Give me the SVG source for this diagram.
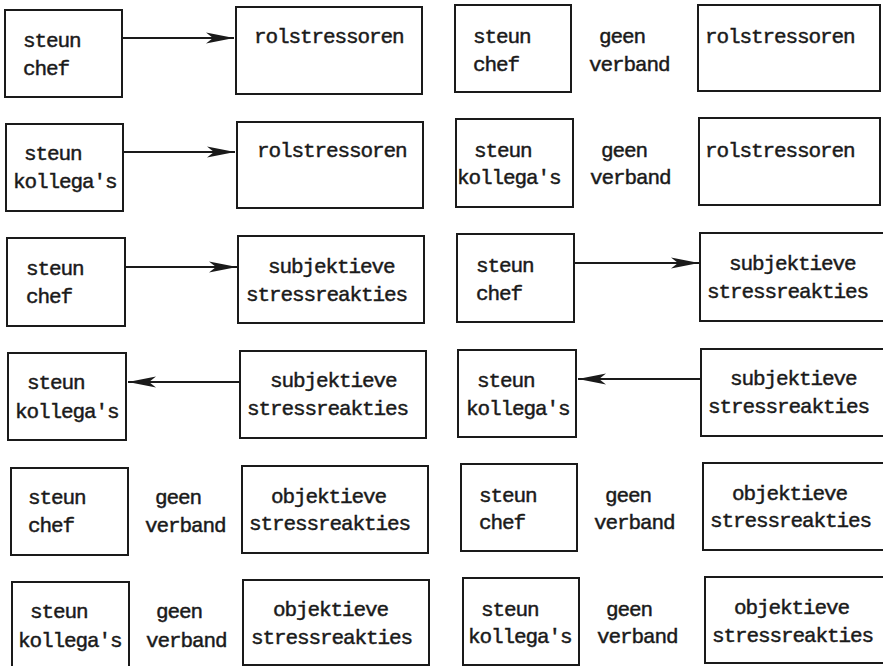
<svg xmlns="http://www.w3.org/2000/svg" width="883" height="666" viewBox="0 0 883 666">
  <defs>
    <style>
      .box { fill: none; stroke: #1a1a1a; stroke-width: 2; }
      .link { stroke: #1a1a1a; stroke-width: 2; fill: none; }
      text { font-family: "Liberation Mono", "DejaVu Sans Mono", monospace; font-size: 21px; letter-spacing: -1.1px; fill: #1a1a1a; stroke: #1a1a1a; stroke-width: 0.45; }
    </style>
    <marker id="head" markerUnits="userSpaceOnUse" markerWidth="32" markerHeight="14" viewBox="-30 -7 32 14" refX="0" refY="0" orient="auto">
      <path d="M0,0 L-28,-5.5 L-21,0 L-28,5.5 Z" fill="#1a1a1a"/>
    </marker>
  </defs>
  <rect width="883" height="666" fill="#ffffff"/>

  <!-- connectors -->
  <g id="connectors">
    <line class="link" x1="122" y1="38" x2="234" y2="38" marker-end="url(#head)"/>
    <line class="link" x1="123" y1="152" x2="235" y2="152" marker-end="url(#head)"/>
    <line class="link" x1="125" y1="267" x2="237" y2="267" marker-end="url(#head)"/>
    <line class="link" x1="574" y1="263" x2="699" y2="263" marker-end="url(#head)"/>
    <line class="link" x1="240" y1="382" x2="128" y2="382" marker-end="url(#head)"/>
    <line class="link" x1="701" y1="379" x2="578" y2="379" marker-end="url(#head)"/>
  </g>

  <!-- row 1 -->
  <g id="r1-chef"><rect class="box" x="5" y="10" width="117" height="87"/><text x="23" y="47">steun</text><text x="23" y="75">chef</text></g>
  <g id="r1-rol"><rect class="box" x="236" y="7" width="186" height="87"/><text x="254" y="43">rolstressoren</text></g>
  <g id="r1b-chef"><rect class="box" x="455" y="5" width="116" height="87"/><text x="473" y="43">steun</text><text x="473" y="71">chef</text></g>
  <g id="r1b-geen"><text x="599" y="43">geen</text><text x="589" y="71">verband</text></g>
  <g id="r1b-rol"><rect class="box" x="698" y="5" width="182" height="86"/><text x="705" y="43">rolstressoren</text></g>

  <!-- row 2 -->
  <g id="r2-kol"><rect class="box" x="6" y="124" width="117" height="87"/><text x="24" y="160">steun</text><text x="13" y="188">kollega's</text></g>
  <g id="r2-rol"><rect class="box" x="237" y="122" width="186" height="86"/><text x="257" y="157">rolstressoren</text></g>
  <g id="r2b-kol"><rect class="box" x="456" y="119" width="117" height="88"/><text x="474" y="157">steun</text><text x="457" y="184">kollega's</text></g>
  <g id="r2b-geen"><text x="601" y="157">geen</text><text x="590" y="184">verband</text></g>
  <g id="r2b-rol"><rect class="box" x="699" y="118" width="181" height="87"/><text x="705" y="157">rolstressoren</text></g>

  <!-- row 3 -->
  <g id="r3-chef"><rect class="box" x="7" y="238" width="118" height="88"/><text x="26" y="275">steun</text><text x="26" y="303">chef</text></g>
  <g id="r3-subj"><rect class="box" x="238" y="236" width="186" height="87"/><text x="268" y="273">subjektieve</text><text x="246" y="301">stressreakties</text></g>
  <g id="r3b-chef"><rect class="box" x="457" y="234" width="117" height="88"/><text x="476" y="272">steun</text><text x="476" y="300">chef</text></g>
  <g id="r3b-subj"><rect class="box" x="700" y="233" width="190" height="88"/><text x="729" y="270">subjektieve</text><text x="707" y="298">stressreakties</text></g>

  <!-- row 4 -->
  <g id="r4-kol"><rect class="box" x="8" y="353" width="118" height="87"/><text x="27" y="389">steun</text><text x="15" y="418">kollega's</text></g>
  <g id="r4-subj"><rect class="box" x="240" y="351" width="186" height="87"/><text x="270" y="387">subjektieve</text><text x="247" y="415">stressreakties</text></g>
  <g id="r4b-kol"><rect class="box" x="458" y="350" width="118" height="87"/><text x="477" y="387">steun</text><text x="466" y="415">kollega's</text></g>
  <g id="r4b-subj"><rect class="box" x="701" y="349" width="190" height="87"/><text x="730" y="385">subjektieve</text><text x="708" y="413">stressreakties</text></g>

  <!-- row 5 -->
  <g id="r5-chef"><rect class="box" x="11" y="468" width="117" height="87"/><text x="28" y="504">steun</text><text x="28" y="532">chef</text></g>
  <g id="r5-geen"><text x="155" y="504">geen</text><text x="145" y="532">verband</text></g>
  <g id="r5-obj"><rect class="box" x="242" y="466" width="186" height="87"/><text x="271" y="503">objektieve</text><text x="249" y="530">stressreakties</text></g>
  <g id="r5b-chef"><rect class="box" x="461" y="464" width="116" height="87"/><text x="479" y="502">steun</text><text x="479" y="529">chef</text></g>
  <g id="r5b-geen"><text x="605" y="502">geen</text><text x="594" y="529">verband</text></g>
  <g id="r5b-obj"><rect class="box" x="703" y="463" width="190" height="87"/><text x="732" y="500">objektieve</text><text x="710" y="527">stressreakties</text></g>

  <!-- row 6 -->
  <g id="r6-kol"><rect class="box" x="12" y="582" width="117" height="86"/><text x="30" y="618">steun</text><text x="18" y="647">kollega's</text></g>
  <g id="r6-geen"><text x="156" y="618">geen</text><text x="146" y="647">verband</text></g>
  <g id="r6-obj"><rect class="box" x="243" y="580" width="186" height="85"/><text x="273" y="616">objektieve</text><text x="251" y="644">stressreakties</text></g>
  <g id="r6b-kol"><rect class="box" x="463" y="578" width="116" height="87"/><text x="481" y="616">steun</text><text x="468" y="643">kollega's</text></g>
  <g id="r6b-geen"><text x="606" y="616">geen</text><text x="597" y="643">verband</text></g>
  <g id="r6b-obj"><rect class="box" x="705" y="577" width="190" height="86"/><text x="734" y="614">objektieve</text><text x="712" y="642">stressreakties</text></g>
</svg>
